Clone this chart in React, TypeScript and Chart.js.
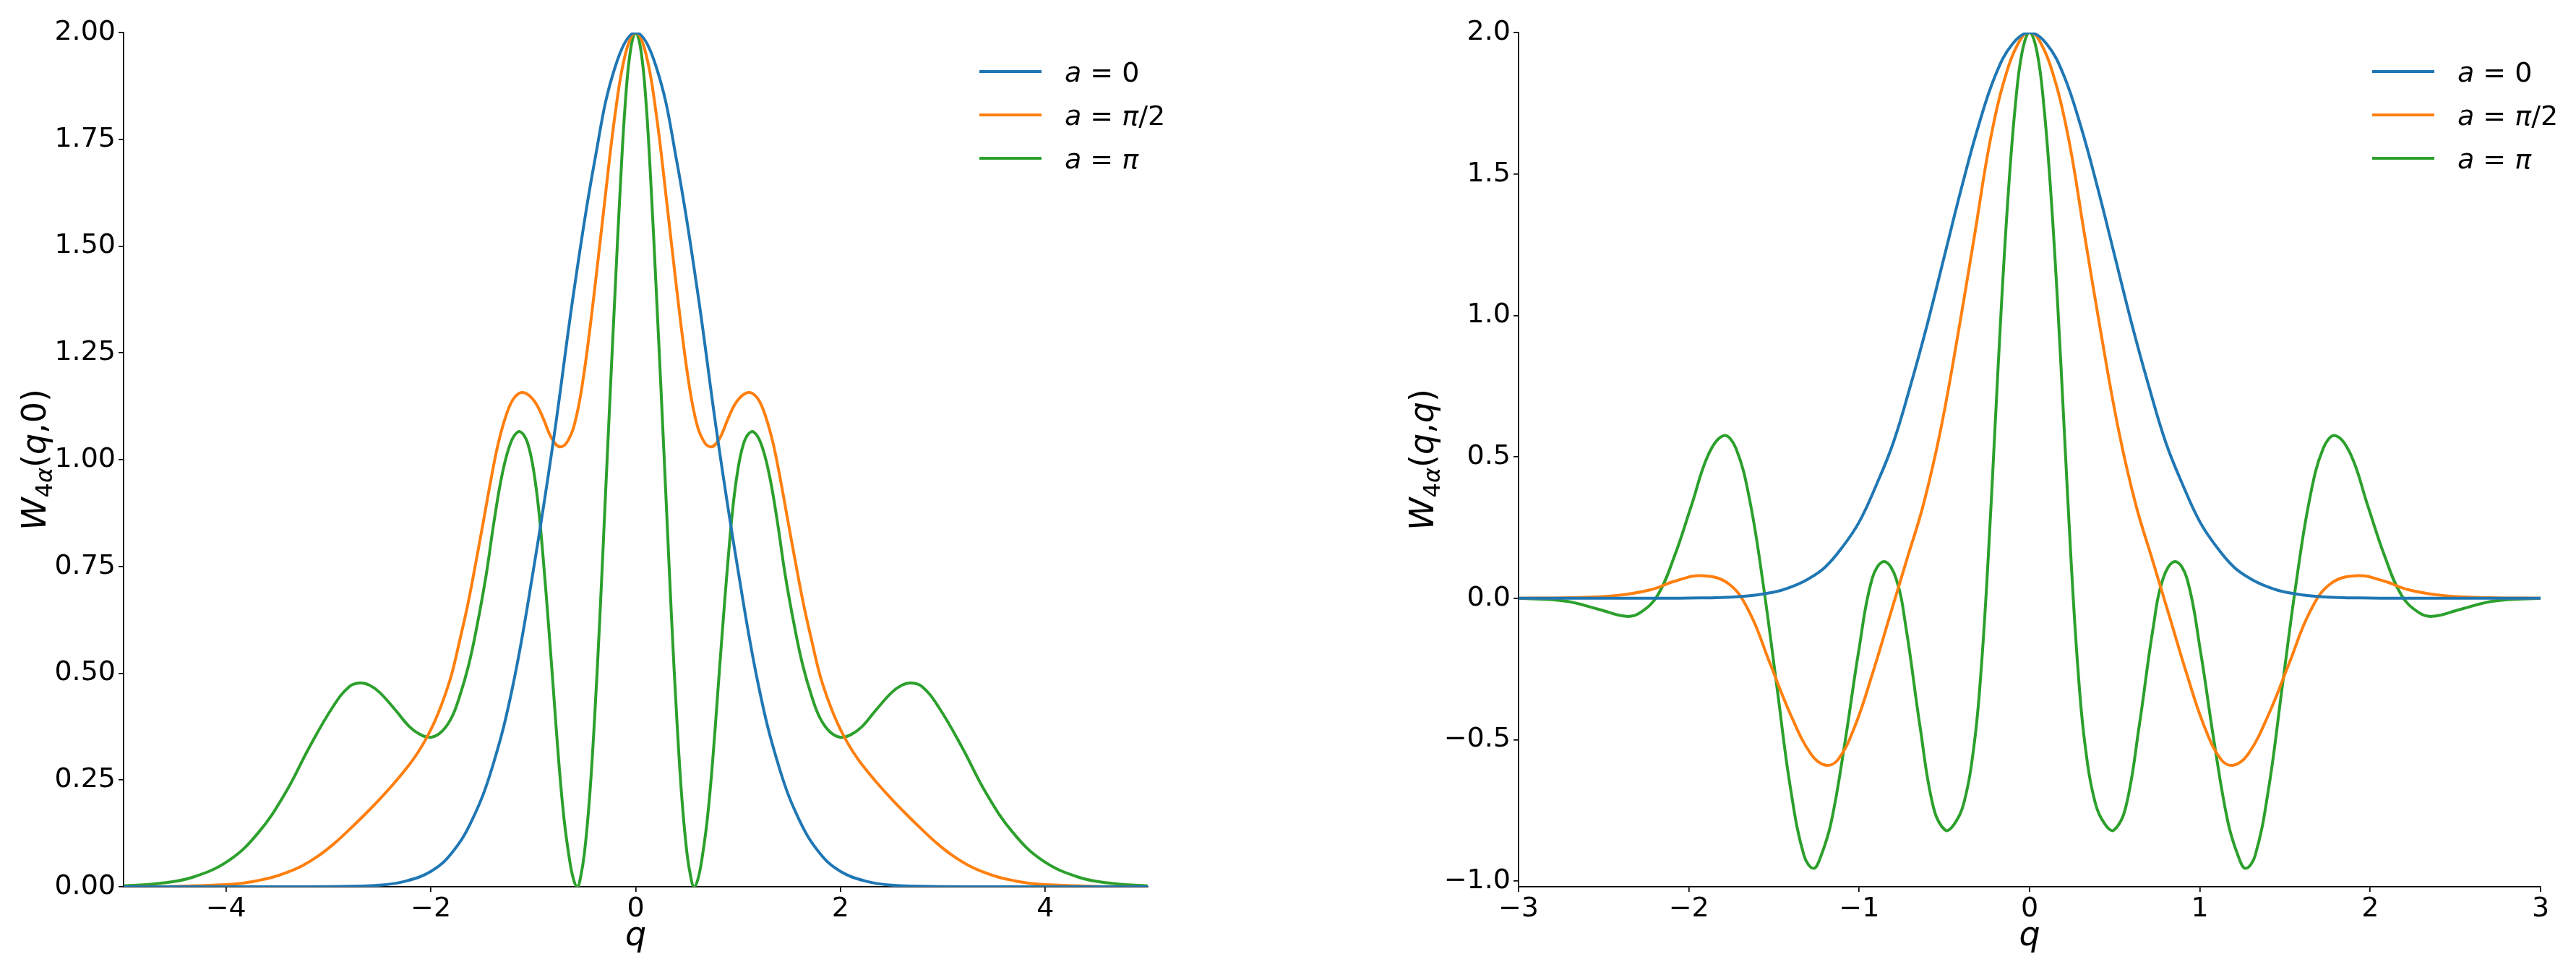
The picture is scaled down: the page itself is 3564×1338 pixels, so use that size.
import React, { useEffect, useRef } from 'react';
import { Chart, registerables } from 'chart.js';

Chart.register(...registerables);

// ---------- colours ----------
const COLORS = ['#1f77b4', '#ff7f0e', '#2ca02c'];

// ---------- tick values ----------
const leftXTicks = [-4, -2, 0, 2, 4];
const leftYTicks = [0, 0.25, 0.5, 0.75, 1.0, 1.25, 1.5, 1.75, 2.0];
const rightXTicks = [-3, -2, -1, 0, 1, 2, 3];
const rightYTicks = [-1.0, -0.5, 0, 0.5, 1.0, 1.5, 2.0];

// ---------- left panel: W(q,0) ----------
const leftQ0 = [-5, -3.5, -3, -2.5, -2.25, -2, -1.8, -1.6, -1.4, -1.2, -1, -0.8, -0.6, -0.4, -0.2, 0, 0.2, 0.4, 0.6, 0.8, 1, 1.2, 1.4, 1.6, 1.8, 2, 2.25, 2.5, 3, 3.5, 5];
const leftW0 = [0, 0, 0.0005, 0.004, 0.013, 0.036, 0.078, 0.155, 0.28, 0.47, 0.74, 1.05, 1.40, 1.70, 1.92, 2.0, 1.92, 1.70, 1.40, 1.05, 0.74, 0.47, 0.28, 0.155, 0.078, 0.036, 0.013, 0.004, 0.0005, 0, 0];

const leftQHalf = [-5, -4.5, -4.0, -3.85, -3.7, -3.55, -3.4, -3.25, -3.1, -2.95, -2.8, -2.65, -2.5, -2.35, -2.21, -2.13, -2.05, -1.97, -1.89, -1.80, -1.72, -1.64, -1.56, -1.48, -1.40, -1.34, -1.27, -1.2, -1.12, -1.05, -0.97, -0.9, -0.82, -0.74, -0.66, -0.58, -0.5, -0.4, -0.3, -0.2, -0.1, 0, 0.1, 0.2, 0.3, 0.4, 0.5, 0.58, 0.66, 0.74, 0.82, 0.9, 0.97, 1.05, 1.12, 1.2, 1.27, 1.34, 1.40, 1.48, 1.56, 1.64, 1.72, 1.80, 1.89, 1.97, 2.05, 2.13, 2.21, 2.35, 2.5, 2.65, 2.8, 2.95, 3.1, 3.25, 3.4, 3.55, 3.7, 3.85, 4.0, 4.5, 5];
const leftWHalf = [0, 0.001, 0.005, 0.008, 0.014, 0.022, 0.034, 0.05, 0.072, 0.10, 0.133, 0.168, 0.205, 0.245, 0.286, 0.313, 0.345, 0.383, 0.43, 0.495, 0.575, 0.66, 0.76, 0.865, 0.97, 1.04, 1.10, 1.14, 1.157, 1.152, 1.13, 1.095, 1.05, 1.03, 1.045, 1.10, 1.21, 1.40, 1.61, 1.81, 1.95, 2.0, 1.95, 1.81, 1.61, 1.40, 1.21, 1.10, 1.045, 1.03, 1.05, 1.095, 1.13, 1.152, 1.157, 1.14, 1.10, 1.04, 0.97, 0.865, 0.76, 0.66, 0.575, 0.495, 0.43, 0.383, 0.345, 0.313, 0.286, 0.245, 0.205, 0.168, 0.133, 0.10, 0.072, 0.05, 0.034, 0.022, 0.014, 0.008, 0.005, 0.001, 0];

const leftQPi = [-5, -4.65, -4.33, -3.97, -3.68, -3.42, -3.19, -2.96, -2.8, -2.69, -2.6, -2.5, -2.35, -2.21, -2.1, -2.0, -1.90, -1.80, -1.72, -1.63, -1.55, -1.46, -1.38, -1.30, -1.22, -1.15, -1.10, -1.05, -1.00, -0.95, -0.90, -0.85, -0.80, -0.75, -0.70, -0.65, -0.61, -0.57, -0.54, -0.50, -0.45, -0.40, -0.35, -0.30, -0.25, -0.20, -0.15, -0.10, -0.05, 0, 0.05, 0.10, 0.15, 0.20, 0.25, 0.30, 0.35, 0.40, 0.45, 0.50, 0.54, 0.57, 0.61, 0.65, 0.70, 0.75, 0.80, 0.85, 0.90, 0.95, 1.00, 1.05, 1.10, 1.15, 1.22, 1.30, 1.38, 1.46, 1.55, 1.63, 1.72, 1.80, 1.90, 2.0, 2.1, 2.21, 2.35, 2.5, 2.6, 2.69, 2.8, 2.96, 3.19, 3.42, 3.68, 3.97, 4.33, 4.65, 5];
const leftWPi = [0.002, 0.008, 0.022, 0.062, 0.128, 0.22, 0.325, 0.42, 0.468, 0.477, 0.472, 0.455, 0.415, 0.375, 0.356, 0.35, 0.362, 0.395, 0.445, 0.52, 0.61, 0.73, 0.86, 0.97, 1.04, 1.065, 1.06, 1.035, 0.98, 0.89, 0.76, 0.61, 0.45, 0.29, 0.16, 0.07, 0.02, 0, 0.02, 0.08, 0.21, 0.40, 0.63, 0.89, 1.15, 1.40, 1.64, 1.84, 1.96, 2.0, 1.96, 1.84, 1.64, 1.40, 1.15, 0.89, 0.63, 0.40, 0.21, 0.08, 0.02, 0, 0.02, 0.07, 0.16, 0.29, 0.45, 0.61, 0.76, 0.89, 0.98, 1.035, 1.06, 1.065, 1.04, 0.97, 0.86, 0.73, 0.61, 0.52, 0.445, 0.395, 0.362, 0.35, 0.356, 0.375, 0.415, 0.455, 0.472, 0.477, 0.468, 0.42, 0.325, 0.22, 0.128, 0.062, 0.022, 0.008, 0.002];

// ---------- right panel: W(q,q) ----------
const rightQ0 = [-3, -2.5, -2, -1.7, -1.5, -1.4, -1.3, -1.2, -1.1, -1, -0.9, -0.8, -0.7, -0.6, -0.5, -0.4, -0.3, -0.2, -0.1, 0, 0.1, 0.2, 0.3, 0.4, 0.5, 0.6, 0.7, 0.8, 0.9, 1, 1.1, 1.2, 1.3, 1.4, 1.5, 1.7, 2, 2.5, 3];
const rightW0 = [0, 0, 0.0007, 0.006, 0.022, 0.04, 0.068, 0.11, 0.18, 0.27, 0.40, 0.55, 0.75, 0.97, 1.21, 1.45, 1.67, 1.85, 1.96, 2.0, 1.96, 1.85, 1.67, 1.45, 1.21, 0.97, 0.75, 0.55, 0.40, 0.27, 0.18, 0.11, 0.068, 0.04, 0.022, 0.006, 0.0007, 0, 0];

const rightQHalf = [-3, -2.7, -2.424, -2.224, -2.084, -1.924, -1.764, -1.644, -1.524, -1.404, -1.284, -1.198, -1.124, -1.024, -0.924, -0.824, -0.724, -0.624, -0.524, -0.424, -0.324, -0.224, -0.124, -0.044, 0, 0.044, 0.124, 0.224, 0.324, 0.424, 0.524, 0.624, 0.724, 0.824, 0.924, 1.024, 1.124, 1.198, 1.284, 1.404, 1.524, 1.644, 1.764, 1.924, 2.084, 2.224, 2.424, 2.7, 3];
const rightWHalf = [0, 0.002, 0.01, 0.03, 0.06, 0.08, 0.05, -0.05, -0.23, -0.41, -0.55, -0.59, -0.57, -0.45, -0.27, -0.07, 0.13, 0.33, 0.59, 0.92, 1.28, 1.64, 1.88, 1.985, 2.0, 1.985, 1.88, 1.64, 1.28, 0.92, 0.59, 0.33, 0.13, -0.07, -0.27, -0.45, -0.57, -0.59, -0.55, -0.41, -0.23, -0.05, 0.05, 0.08, 0.06, 0.03, 0.01, 0.002, 0];

const rightQPi = [-3, -2.724, -2.524, -2.364, -2.284, -2.184, -2.084, -1.984, -1.884, -1.794, -1.724, -1.644, -1.564, -1.484, -1.404, -1.324, -1.268, -1.224, -1.164, -1.084, -1.004, -0.924, -0.854, -0.784, -0.724, -0.644, -0.564, -0.494, -0.444, -0.384, -0.324, -0.284, -0.244, -0.204, -0.164, -0.124, -0.084, -0.044, 0, 0.044, 0.084, 0.124, 0.164, 0.204, 0.244, 0.284, 0.324, 0.384, 0.444, 0.494, 0.564, 0.644, 0.724, 0.784, 0.854, 0.924, 1.004, 1.084, 1.164, 1.224, 1.268, 1.324, 1.404, 1.484, 1.564, 1.644, 1.724, 1.794, 1.884, 1.984, 2.084, 2.184, 2.284, 2.364, 2.524, 2.724, 3];
const rightWPi = [0, -0.01, -0.04, -0.064, -0.05, 0.01, 0.15, 0.33, 0.51, 0.575, 0.53, 0.35, 0.05, -0.31, -0.67, -0.91, -0.955, -0.91, -0.79, -0.51, -0.19, 0.07, 0.13, 0.07, -0.11, -0.45, -0.74, -0.82, -0.80, -0.72, -0.51, -0.25, 0.13, 0.59, 1.05, 1.44, 1.74, 1.93, 2.0, 1.93, 1.74, 1.44, 1.05, 0.59, 0.13, -0.25, -0.51, -0.72, -0.80, -0.82, -0.74, -0.45, -0.11, 0.07, 0.13, 0.07, -0.19, -0.51, -0.79, -0.91, -0.955, -0.91, -0.67, -0.31, 0.05, 0.35, 0.53, 0.575, 0.51, 0.33, 0.15, 0.01, -0.05, -0.064, -0.04, -0.01, 0];

// ---------- text pieces ----------
type Seg = { t: string; it?: boolean; s: number; dy?: number };
const TICK_FONT = 38;
const LABEL_FONT = 46;
const LEG_FONT = 38;
const LINE_W = 4;
const FAMILY = '"DejaVu Sans"';

const legendTexts: Seg[][] = [
  [{ t: 'a', it: true, s: LEG_FONT }, { t: ' = ', s: LEG_FONT }, { t: '0', s: LEG_FONT }],
  [{ t: 'a', it: true, s: LEG_FONT }, { t: ' = ', s: LEG_FONT }, { t: 'π', it: true, s: LEG_FONT }, { t: '/2', s: LEG_FONT }],
  [{ t: 'a', it: true, s: LEG_FONT }, { t: ' = ', s: LEG_FONT }, { t: 'π', it: true, s: LEG_FONT }],
];

const SUB = Math.round(LABEL_FONT * 0.7);
const leftYLabel: Seg[] = [
  { t: 'W', it: true, s: LABEL_FONT },
  { t: '4', s: SUB, dy: 9 },
  { t: 'α', it: true, s: SUB, dy: 9 },
  { t: '(', s: LABEL_FONT },
  { t: 'q', it: true, s: LABEL_FONT },
  { t: ',', s: LABEL_FONT },
  { t: '0', s: LABEL_FONT },
  { t: ')', s: LABEL_FONT },
];
const rightYLabel: Seg[] = [
  { t: 'W', it: true, s: LABEL_FONT },
  { t: '4', s: SUB, dy: 9 },
  { t: 'α', it: true, s: SUB, dy: 9 },
  { t: '(', s: LABEL_FONT },
  { t: 'q', it: true, s: LABEL_FONT },
  { t: ',', s: LABEL_FONT },
  { t: 'q', it: true, s: LABEL_FONT },
  { t: ')', s: LABEL_FONT },
];
const xLabel: Seg[] = [{ t: 'q', it: true, s: LABEL_FONT }];

function fontOf(seg: Seg) {
  return `${seg.it ? 'italic ' : ''}${seg.s}px ${FAMILY}`;
}
function segsWidth(ctx: CanvasRenderingContext2D, segs: Seg[]) {
  let w = 0;
  for (const s of segs) {
    ctx.font = fontOf(s);
    w += ctx.measureText(s.t).width;
  }
  return w;
}
function drawSegs(ctx: CanvasRenderingContext2D, segs: Seg[], x: number, y: number) {
  let cx = x;
  for (const s of segs) {
    ctx.font = fontOf(s);
    ctx.fillText(s.t, cx, y + (s.dy || 0));
    cx += ctx.measureText(s.t).width;
  }
}

const figTextPlugin = {
  id: 'figText',
  afterDraw(chart: any, _args: any, opts: any) {
    const { ctx, chartArea } = chart;
    ctx.save();
    ctx.fillStyle = '#000';
    ctx.textBaseline = 'alphabetic';
    ctx.textAlign = 'left';

    // y title (rotated)
    const yw = segsWidth(ctx, opts.ylabel);
    ctx.save();
    ctx.translate(chartArea.left - opts.yTitleOffset, (chartArea.top + chartArea.bottom) / 2);
    ctx.rotate(-Math.PI / 2);
    drawSegs(ctx, opts.ylabel, -yw / 2, 0.28 * LABEL_FONT);
    ctx.restore();

    // x title
    const xw = segsWidth(ctx, xLabel);
    drawSegs(ctx, xLabel, (chartArea.left + chartArea.right) / 2 - xw / 2, chartArea.bottom + opts.xTitleBaseline);

    // legend
    const x0 = chartArea.right - 233;
    chart.data.datasets.forEach((ds: any, i: number) => {
      const y = chartArea.top + 54 + i * 60;
      ctx.beginPath();
      ctx.strokeStyle = ds.borderColor;
      ctx.lineWidth = LINE_W;
      ctx.moveTo(x0, y);
      ctx.lineTo(x0 + 86, y);
      ctx.stroke();
      ctx.fillStyle = '#000';
      drawSegs(ctx, legendTexts[i], x0 + 118, y + 14);
    });
    ctx.restore();
  },
};

function fmt(v: number, digits: number) {
  const s = digits > 0 ? v.toFixed(digits) : String(Math.round(v));
  return s.replace('-', '\u2212');
}

function pts(xs: number[], ys: number[]) {
  return xs.map((x, i) => ({ x, y: ys[i] }));
}

function makeConfig(p: {
  series: { xs: number[]; ys: number[] }[];
  xMin: number; xMax: number; yMin: number; yMax: number;
  xTicks: number[]; yTicks: number[]; yDigits: number;
  axisLeft: number; padRight: number; ylabel: Seg[]; yTitleOffset: number;
}): any {
  const grid = { display: true, drawOnChartArea: false, drawTicks: true, tickLength: 7, color: '#000', lineWidth: 1.7 };
  const border = { display: true, color: '#000', width: 1.7 };
  return {
    type: 'line',
    data: {
      datasets: p.series.map((s, i) => ({
        label: ['a = 0', 'a = π/2', 'a = π'][i],
        data: pts(s.xs, s.ys),
        borderColor: COLORS[i],
        backgroundColor: COLORS[i],
        borderWidth: LINE_W,
        pointRadius: 0,
        fill: false,
        tension: 0.4,
        borderJoinStyle: 'round',
      })),
    },
    options: {
      animation: false,
      responsive: false,
      devicePixelRatio: 1,
      events: [],
      layout: { autoPadding: false, padding: { left: 0, right: p.padRight, top: 45, bottom: 0 } },
      plugins: {
        legend: { display: false },
        tooltip: { enabled: false },
        figText: { ylabel: p.ylabel, yTitleOffset: p.yTitleOffset, xTitleBaseline: 81 },
      },
      scales: {
        x: {
          type: 'linear',
          min: p.xMin,
          max: p.xMax,
          grid,
          border,
          afterBuildTicks: (s: any) => { s.ticks = p.xTicks.map((v) => ({ value: v })); },
          afterFit: (s: any) => { s.height = 111; },
          ticks: {
            color: '#000', font: { family: 'DejaVu Sans', size: TICK_FONT }, padding: 1,
            maxRotation: 0, autoSkip: false, callback: (v: number) => fmt(v, 0),
          },
        },
        y: {
          type: 'linear',
          min: p.yMin,
          max: p.yMax,
          grid,
          border,
          afterBuildTicks: (s: any) => { s.ticks = p.yTicks.map((v) => ({ value: v })); },
          afterFit: (s: any) => { s.width = p.axisLeft; },
          ticks: {
            color: '#000', font: { family: 'DejaVu Sans', size: TICK_FONT }, padding: 4,
            autoSkip: false, callback: (v: number) => fmt(v, p.yDigits),
          },
        },
      },
    },
    plugins: [figTextPlugin],
  };
}

export default function App() {
  const leftRef = useRef<HTMLCanvasElement | null>(null);
  const rightRef = useRef<HTMLCanvasElement | null>(null);

  useEffect(() => {
    const left = new Chart(leftRef.current as HTMLCanvasElement, makeConfig({
      series: [
        { xs: leftQ0, ys: leftW0 },
        { xs: leftQHalf, ys: leftWHalf },
        { xs: leftQPi, ys: leftWPi },
      ],
      xMin: -5, xMax: 5, yMin: 0, yMax: 2,
      xTicks: leftXTicks, yTicks: leftYTicks, yDigits: 2,
      axisLeft: 171, padRight: 194, ylabel: leftYLabel, yTitleOffset: 121,
    }));
    const right = new Chart(rightRef.current as HTMLCanvasElement, makeConfig({
      series: [
        { xs: rightQ0, ys: rightW0 },
        { xs: rightQHalf, ys: rightWHalf },
        { xs: rightQPi, ys: rightWPi },
      ],
      xMin: -3, xMax: 3, yMin: -1.02, yMax: 2,
      xTicks: rightXTicks, yTicks: rightYTicks, yDigits: 1,
      axisLeft: 319, padRight: 49, ylabel: rightYLabel, yTitleOffset: 131,
    }));
    return () => {
      left.destroy();
      right.destroy();
    };
  }, []);

  return (
    <div style={{ position: 'fixed', left: 0, top: 0, width: 3564, height: 1338, background: '#fff', overflow: 'hidden' }}>
      <canvas ref={leftRef} width={1782} height={1338} style={{ position: 'absolute', left: 0, top: 0, width: 1782, height: 1338 }} />
      <canvas ref={rightRef} width={1782} height={1338} style={{ position: 'absolute', left: 1782, top: 0, width: 1782, height: 1338 }} />
    </div>
  );
}
